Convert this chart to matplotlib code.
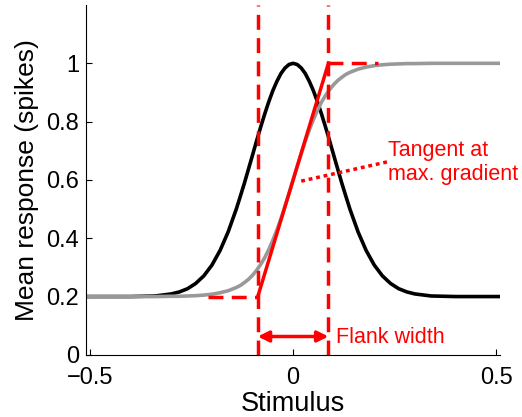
import matplotlib.pyplot as plt

plt.rcParams['font.family'] = ['Liberation Sans', 'DejaVu Sans']

# stimulus grid and the two response curves
stim = [-0.51, -0.4, -0.34, -0.3, -0.28, -0.26, -0.24, -0.22, -0.2, -0.18, -0.16,
        -0.14, -0.13, -0.12, -0.11, -0.1, -0.09, -0.08, -0.07, -0.06, -0.05,
        -0.04, -0.03, -0.02, -0.01, 0.0, 0.01, 0.02, 0.03, 0.04, 0.05, 0.06,
        0.07, 0.08, 0.09, 0.1, 0.11, 0.12, 0.13, 0.14, 0.16, 0.18, 0.2, 0.22,
        0.24, 0.26, 0.28, 0.3, 0.34, 0.4, 0.51]
tuning = [0.200, 0.200, 0.202, 0.209, 0.216, 0.227, 0.245, 0.271, 0.308, 0.358,
          0.422, 0.500, 0.544, 0.589, 0.637, 0.685, 0.734, 0.781, 0.826, 0.868,
          0.906, 0.938, 0.965, 0.984, 0.996, 1.000, 0.996, 0.984, 0.965, 0.938,
          0.906, 0.868, 0.826, 0.781, 0.734, 0.685, 0.637, 0.589, 0.544, 0.500,
          0.422, 0.358, 0.308, 0.271, 0.245, 0.227, 0.216, 0.209, 0.202, 0.200,
          0.200]
sigmoid = [0.200, 0.200, 0.200, 0.201, 0.201, 0.202, 0.203, 0.205, 0.208, 0.213,
           0.220, 0.231, 0.238, 0.248, 0.259, 0.273, 0.290, 0.310, 0.333, 0.361,
           0.393, 0.428, 0.467, 0.510, 0.554, 0.600, 0.646, 0.690, 0.733, 0.772,
           0.807, 0.839, 0.867, 0.890, 0.910, 0.927, 0.941, 0.952, 0.962, 0.969,
           0.980, 0.987, 0.992, 0.995, 0.997, 0.998, 0.999, 0.999, 1.000, 1.000,
           1.000]

# flank edges, baseline / saturation levels
flank = [-0.087, 0.087]
levels = [0.2, 1.0]
guide_ends = [-0.21, 0.21]
arrow_y = 0.063
pointer_x = [0.02, 0.232]
pointer_y = [0.596, 0.662]

red = '#ff0000'

fig = plt.figure(figsize=(5.22, 4.17), dpi=100)
ax = fig.add_axes([0.165, 0.149, 0.793, 0.839])

ax.plot(stim, tuning, color='black', lw=2.6, solid_capstyle='butt')
ax.plot(stim, sigmoid, color='#999999', lw=2.6, solid_capstyle='butt')

dash = (0, (4.3, 2.4))
for xv in flank:
    ax.plot([xv, xv], [0, 1.2], color=red, lw=2.5, linestyle=dash)
ax.plot([guide_ends[0], flank[0]], [levels[0], levels[0]], color=red, lw=2.5, linestyle=dash)
ax.plot([flank[1], guide_ends[1]], [levels[1], levels[1]], color=red, lw=2.5, linestyle=dash)

# tangent at the steepest point
ax.plot(flank, levels, color=red, lw=2.5)

ax.annotate('', xy=(flank[1], arrow_y), xytext=(flank[0], arrow_y),
            arrowprops=dict(arrowstyle='<|-|>', color=red, lw=2.5,
                            mutation_scale=16, shrinkA=0, shrinkB=0))
ax.text(0.106, arrow_y - 0.004, 'Flank width', color=red, fontsize=15.5,
        ha='left', va='center')

ax.plot(pointer_x, pointer_y, color=red, lw=2.5, linestyle=(0, (1.1, 1.1)))
ax.text(0.235, 0.66, 'Tangent at\nmax. gradient', color=red, fontsize=15.5,
        ha='left', va='center', linespacing=1.15)

ax.set_xlim(-0.51, 0.51)
ax.set_ylim(0, 1.2)
ax.set_xticks([-0.5, 0, 0.5])
ax.set_xticklabels(['\u22120.5', '0', '0.5'])
ax.set_yticks([0, 0.2, 0.4, 0.6, 0.8, 1.0])
ax.set_yticklabels(['0', '0.2', '0.4', '0.6', '0.8', '1'])
ax.tick_params(direction='in', length=4, width=0.8, labelsize=17)
ax.tick_params(axis='x', pad=9)
ax.tick_params(axis='y', pad=5)
ax.spines['top'].set_visible(False)
ax.spines['right'].set_visible(False)
ax.set_xlabel('Stimulus', fontsize=19.5, labelpad=1)
ax.set_ylabel('Mean response (spikes)', fontsize=19, labelpad=5)

fig.savefig('out.png', dpi=100)
